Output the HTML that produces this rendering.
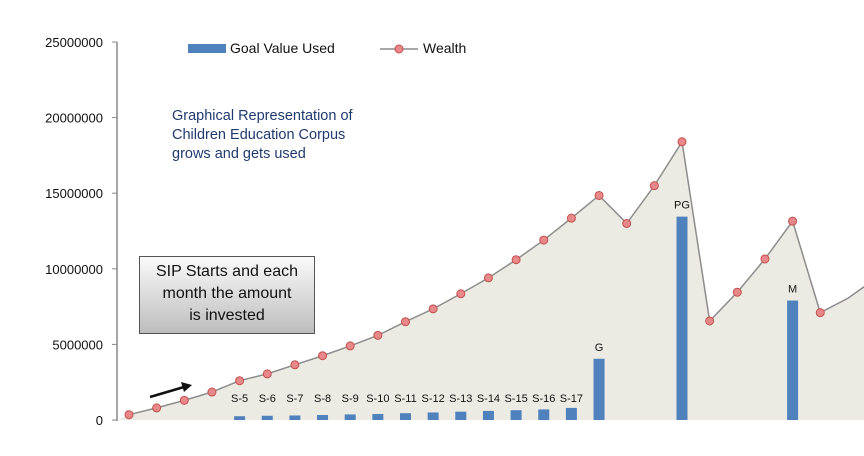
<!DOCTYPE html>
<html><head><meta charset="utf-8"><style>
body{margin:0;background:#fff;font-family:"Liberation Sans",sans-serif}
#wrap{position:relative;width:864px;height:456px;overflow:hidden}
svg text{font-family:"Liberation Sans",sans-serif}
.callout{position:absolute;left:139px;top:256px;width:176px;height:78px;border:1px solid #555;background:linear-gradient(#fafafa,#bdbdbd);font-size:16px;text-align:center;line-height:22px;box-sizing:border-box;padding-top:4px;color:#111}
</style></head><body>
<div id="wrap">
<svg id="svg" width="864" height="456"></svg>
<div class="callout">SIP Starts and each<br>month the amount<br>is invested</div>
</div>
<script>
const wealth=[0.35,0.8,1.3,1.85,2.6,3.05,3.65,4.25,4.9,5.6,6.5,7.35,8.35,9.4,10.6,11.9,13.35,14.85,13.0,15.5,18.4,6.55,8.45,10.65,13.15,7.1,8.05,9.35];
const markerCount=26;
const barIdx=[4,5,6,7,8,9,10,11,12,13,14,15,16,17,20,24];
const barVals=[0.25,0.28,0.3,0.33,0.37,0.4,0.45,0.5,0.55,0.6,0.65,0.7,0.8,4.05,13.45,7.9];
const barLabels=["S-5","S-6","S-7","S-8","S-9","S-10","S-11","S-12","S-13","S-14","S-15","S-16","S-17","G","PG","M"];
const yTicks=[0,5000000,10000000,15000000,20000000,25000000];
const NS="http://www.w3.org/2000/svg",svg=document.getElementById('svg');
const x=i=>129+i*27.65;
const yv=v=>420-v*15.12;
function el(t,a,p){const e=document.createElementNS(NS,t);for(const k in a)e.setAttribute(k,a[k]);(p||svg).appendChild(e);return e;}
let pts=wealth.map((v,i)=>x(i)+','+yv(v)).join(' ');
const area=el('polygon',{points:'118,420 '+pts+' '+x(wealth.length-1)+',420',fill:'#ecebe3'});


const ax=el('line',{x1:117,y1:42,x2:117,y2:421,stroke:'#888','stroke-width':1.5});


yTicks.forEach(t=>{const yy=yv(t/1e6);
el('line',{x1:112,y1:yy,x2:117,y2:yy,stroke:'#888'});
const tx=el('text',{x:103,y:yy+5,'text-anchor':'end','font-size':13,fill:'#111'});tx.textContent=t;

});
barIdx.forEach((ix,k)=>{const v=barVals[k];
const r=el('rect',{x:x(ix)-5.5,y:yv(v),width:11,height:420-yv(v),fill:'#4f81bd'});


const t=el('text',{x:x(ix),y:(k<13?402:yv(v)-8),'text-anchor':'middle','font-size':11,fill:'#111'});t.textContent=barLabels[k];

});
const ln=el('polyline',{points:pts,fill:'none',stroke:'#8c8c8c','stroke-width':1.5});


wealth.forEach((v,i)=>{if(i>=markerCount)return;const c=el('circle',{cx:x(i),cy:yv(v),r:4,fill:'#e8888a',stroke:'#c0504d','stroke-width':1});

});
const lg=el('g',{});
el('rect',{x:188,y:44,width:38,height:9,fill:'#4f81bd'},lg);
let t1=el('text',{x:230,y:53,'font-size':14,fill:'#111'},lg);t1.textContent='Goal Value Used';
el('line',{x1:380,y1:49,x2:418,y2:49,stroke:'#8c8c8c','stroke-width':1.5},lg);
el('circle',{cx:399,cy:49,r:4,fill:'#e8888a',stroke:'#c0504d'},lg);
let t2=el('text',{x:423,y:53,'font-size':14,fill:'#111'},lg);t2.textContent='Wealth';
const an=el('text',{x:172,y:120,'font-size':14.5,fill:'#1f3a6e'});
['Graphical Representation of','Children Education Corpus','grows and gets used'].forEach((s,i)=>{const ts=el('tspan',{x:172,dy:i?19:0},an);ts.textContent=s;});
const ar=el('g',{});
el('line',{x1:150,y1:397,x2:184,y2:387,stroke:'#111','stroke-width':2.5},ar);
el('polygon',{points:'192,385 181,382 184,392',fill:'#111'},ar);
</script>
</body></html>
